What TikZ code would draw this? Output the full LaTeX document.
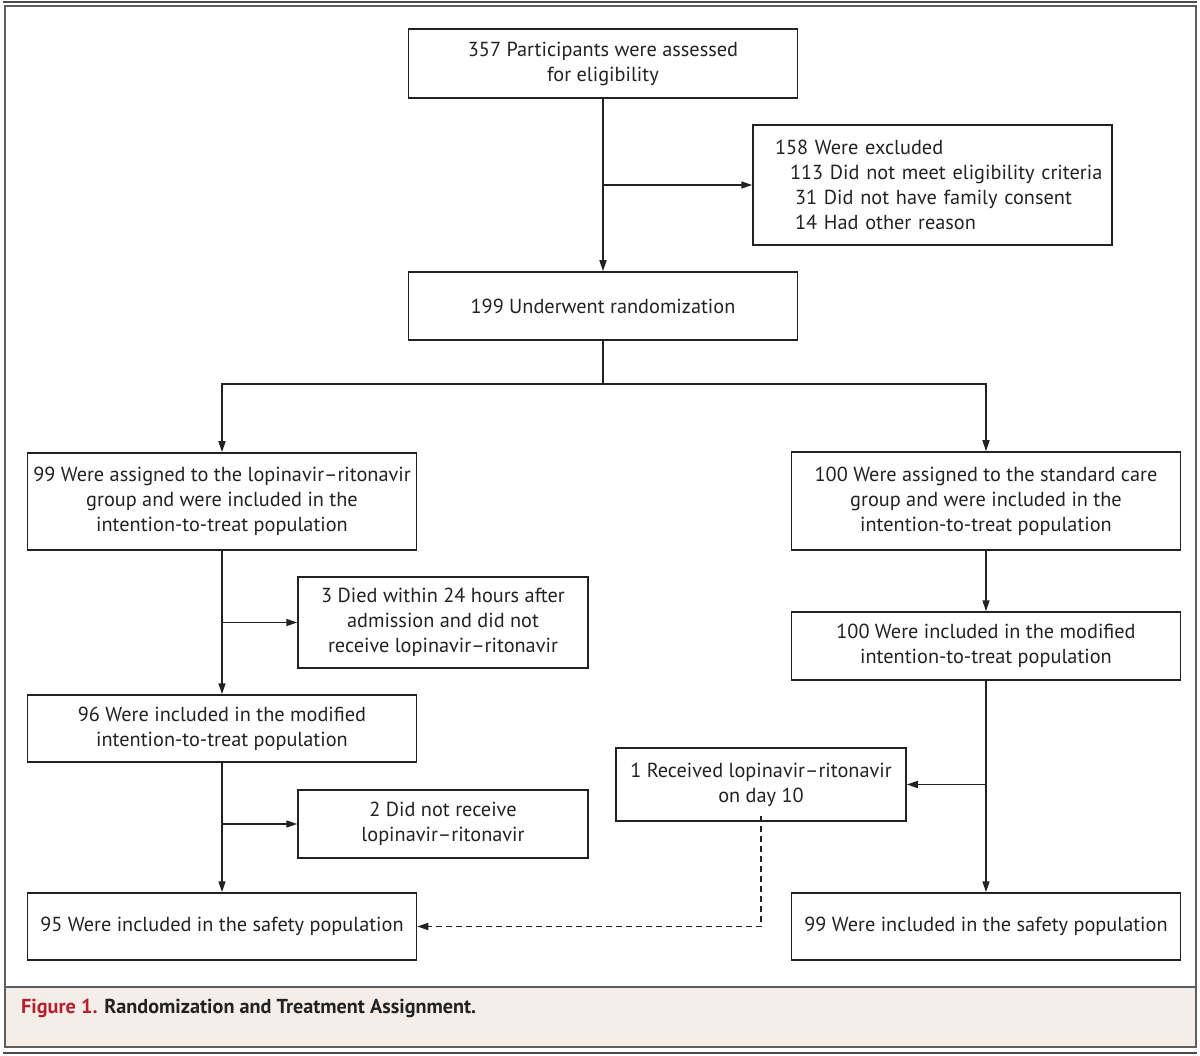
\documentclass[tikz,border=0pt]{standalone}
\usepackage{fontspec}
\setmainfont{PT Sans}
\usetikzlibrary{arrows.meta}
\definecolor{ink}{HTML}{222222}
\definecolor{framec}{HTML}{5E5E5E}
\definecolor{capfill}{HTML}{F4EDE8}
\definecolor{nejmred}{HTML}{B5202E}
\tikzset{
  box/.style={draw=ink, line width=1.5pt, inner sep=0pt, align=center, text=ink,
    font=\fontsize{20.3}{25}\selectfont},
  bigbox/.style={box, minimum width=389pt, minimum height=68pt},
  smallbox/.style={box, minimum width=290pt},
  arr/.style={draw=ink, line width=1.5pt, -{Triangle[length=11pt,width=7pt]}},
  dasharr/.style={arr, dash pattern=on 6pt off 4pt},
}
\begin{document}
\begin{tikzpicture}[x=1pt,y=-1pt]
\useasboundingbox (0,0) rectangle (1200,1056);
% frame and caption
\fill[capfill] (4.5,987) rectangle (1195.5,1047);
\draw[framec, line width=2pt] (4.5,6) rectangle (1195.5,1047);
\draw[framec, line width=2pt] (4.5,987) -- (1195.5,987);
\draw[framec!80!black, line width=2pt] (3,2) -- (1197,2);
\draw[framec!80!black, line width=2pt] (3,1053) -- (1197,1053);
\node[anchor=base west, inner sep=0pt, font=\fontsize{20.2}{24}\selectfont\bfseries] (cap) at (21,1013)
  {\textcolor{nejmred}{Figure 1.} \textcolor{ink}{Randomization and Treatment Assignment.}};
% boxes
\node[bigbox, minimum height=69pt] (top) at (603,63.5) {357 Participants were assessed\\for eligibility};
\node[box, minimum width=359pt, minimum height=120pt, align=left, text width=349pt] (excl) at (932.5,185)
  {\hspace*{17pt}158 Were excluded\\\hspace*{32pt}113 Did not meet eligibility criteria\\\hspace*{37pt}31 Did not have family consent\\\hspace*{37pt}14 Had other reason};
\node[bigbox] (rand) at (603,306) {199 Underwent randomization};
\coordinate (split) at (603,384);
\node[bigbox, minimum height=97pt] (lassign) at (222,501.5) {99 Were assigned to the lopinavir--ritonavir\\group and were included in the\\intention-to-treat population};
\node[bigbox, minimum height=98pt] (rassign) at (986,501) {100 Were assigned to the standard care\\group and were included in the\\intention-to-treat population};
\node[smallbox, minimum height=91pt] (died) at (443,622.5) {3 Died within 24 hours after\\admission and did not\\receive lopinavir--ritonavir};
\node[bigbox] (rmod) at (986,646) {100 Were included in the modified\\intention-to-treat population};
\node[bigbox, minimum height=67pt] (lmod) at (222,728.5) {96 Were included in the modified\\intention-to-treat population};
\node[smallbox, minimum height=73pt] (rec) at (761,784.5) {1 Received lopinavir--ritonavir\\on day 10};
\node[smallbox, minimum height=68pt] (notrec) at (443,824) {2 Did not receive\\lopinavir--ritonavir};
\node[bigbox, minimum height=67pt] (lsafe) at (222,926.5) {95 Were included in the safety population};
\node[bigbox, minimum height=67pt] (rsafe) at (986,926.5) {99 Were included in the safety population};
% connectors
\draw[arr] (top.south) -- (rand.north);
\draw[arr] (top.south |- excl.west) -- (excl.west);
\draw[draw=ink, line width=1.5pt] (rand.south) -- (split);
\draw[arr] (split) -| (lassign.north);
\draw[arr] (split) -| (rassign.north);
\draw[arr] (lassign.south) -- (lmod.north);
\draw[arr] (lassign.south |- died.west) -- (died.west);
\draw[arr] (lmod.south) -- (lsafe.north);
\draw[arr] (lmod.south |- notrec.west) -- (notrec.west);
\draw[arr] (rassign.south) -- (rmod.north);
\draw[arr] (rmod.south) -- (rsafe.north);
\draw[arr] (rmod.south |- rec.east) -- (rec.east);
\draw[dasharr] ([yshift=6pt]rec.south) |- (lsafe.east);
\end{tikzpicture}
\end{document}
